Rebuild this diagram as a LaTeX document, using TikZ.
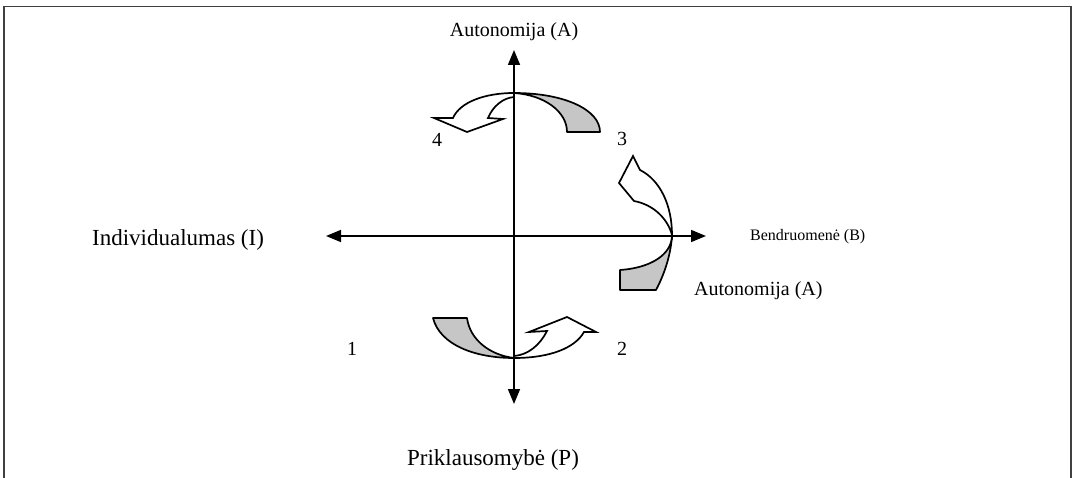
\documentclass[tikz,border=0pt]{standalone}
\usepackage{fontspec}
\setmainfont{Liberation Serif}
\usetikzlibrary{arrows.meta}
\begin{document}
\begin{tikzpicture}[x=1pt,y=-1pt,
  axis/.style={line width=1.6pt,-{Triangle[length=15pt,width=12pt]}},
  band/.style={line width=1.7pt,fill=gray!45,line join=round},
  wband/.style={line width=1.7pt,fill=white,line join=miter},
  lbl/.style={inner sep=0pt,font=\fontsize{20}{22}\selectfont},
  num/.style={inner sep=0pt,font=\fontsize{20}{22}\selectfont}]
\useasboundingbox (0,0) rectangle (1076,478);
\draw[line width=1.5pt,black!75] (4,478) -- (4,6.5) -- (1071,6.5) -- (1071,478);
% axes
\coordinate (c) at (514,236);
\coordinate (top) at (514,50);
\coordinate (bot) at (514,404);
\coordinate (lft) at (326,236);
\coordinate (rgt) at (706,236);
\draw[axis] (c) -- (top);
\draw[axis] (c) -- (bot);
\draw[axis] (c) -- (lft);
\draw[axis] (c) -- (rgt);
% top arrow
\draw[band] (514,93) .. controls (565,93) and (600,110) .. (600,132) -- (567,132) .. controls (567,112) and (545,95) .. (514,93) -- cycle;
\draw[wband] (514,93) .. controls (485,93) and (460,102) .. (453,118) -- (434,118) -- (467,132) -- (503,119) -- (488,118) .. controls (493,106) and (503,98) .. (514,97) -- cycle;
% right arrow
\draw[band] (672,235) .. controls (672,255) and (650,268) .. (620,270) -- (620,290) -- (656,290) .. controls (664,275) and (671,255) .. (672,235) -- cycle;
\draw[wband] (672,235) .. controls (672,205) and (660,180) .. (640,170) -- (633,156) -- (619,183) -- (634,201) .. controls (655,205) and (668,220) .. (672,235) -- cycle;
% bottom arrow
\draw[band] (433,318) -- (467,318) .. controls (470,340) and (490,355) .. (514,358) .. controls (475,358) and (440,345) .. (433,318) -- cycle;
\draw[wband] (514,358) .. controls (550,358) and (575,348) .. (584,332) -- (596,332) -- (567,317) -- (529,332) -- (547,331) .. controls (540,345) and (528,355) .. (514,356) -- cycle;
% labels
\node[lbl] (ta) at (514,32) {Autonomija (A)};
\node[lbl,font=\fontsize{23}{25}\selectfont] (ind) at (178,240) {Individualumas (I)};
\node[lbl,anchor=west,font=\fontsize{16}{18}\selectfont] (ben) at (750,237) {Bendruomenė (B)};
\node[lbl,anchor=west] (ra) at (694,291) {Autonomija (A)};
\node[lbl,font=\fontsize{23}{25}\selectfont] (pri) at (493,460) {Priklausomybė (P)};
\node[num] (n4) at (437,140) {4};
\node[num] (n3) at (622,139) {3};
\node[num] (n1) at (352,349) {1};
\node[num] (n2) at (622,349) {2};
\end{tikzpicture}
\end{document}
